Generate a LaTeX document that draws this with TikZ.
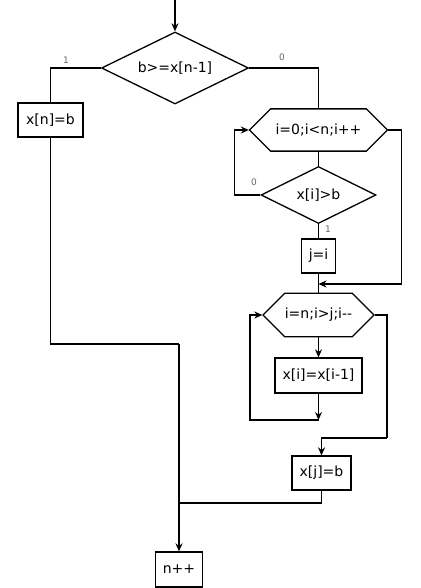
\documentclass[tikz,border=0pt]{standalone}
\usepackage{fontspec}
\setmainfont{DejaVu Sans}
\usetikzlibrary{shapes.geometric, shapes.misc, arrows.meta}

\tikzset{
  block/.style={draw, rectangle, inner sep=0pt, line width=1.3pt},
  test/.style={draw, diamond, aspect=2, inner sep=0pt, line width=1.3pt},
  cycle/.style={draw, chamfered rectangle, chamfered rectangle xsep=#1,
    chamfered rectangle ysep=15pt, inner sep=0pt, line width=1.3pt},
  flow/.style={line width=1.3pt, -{Stealth[length=8pt,width=7pt]}},
  wire/.style={line width=1.3pt},
  branch/.style={font=\fontsize{9}{10}\selectfont, text=black!60, inner sep=1pt}
}

\begin{document}
\begin{tikzpicture}[x=1pt, y=-1pt, font=\fontsize{14}{16}\selectfont]
            \useasboundingbox (0,0) rectangle (420,588);

            \coordinate (start) at (175,0);
            \node[test, minimum width=147pt, minimum height=72pt] (cmpb) at (175,68) {b>=x[n-1]};
            \node[block, minimum width=65pt, minimum height=34pt] (setn) at (50.5,120) {x[n]=b};
            \node[cycle=20pt, minimum width=138pt, minimum height=30pt] (findi) at (318.5,130) {i=0;i<n;i++};
            \node[test, minimum width=115pt, minimum height=57pt] (cmpx) at (318.5,195) {x[i]>b};
            \node[block, minimum width=34pt, minimum height=34pt] (setj) at (318.5,256) {j=i};
            \node[cycle=15pt, minimum width=111pt, minimum height=30pt] (shifti) at (318.5,315) {i=n;i>j;i-{}-};
            \node[block, minimum width=87pt, minimum height=35pt] (move) at (318.5,375.5) {x[i]=x[i-1]};
            \node[block, minimum width=59pt, minimum height=34pt] (putb) at (321.5,473) {x[j]=b};
            \node[block, minimum width=47pt, minimum height=35pt] (incn) at (179,569.5) {n++};

            \coordinate (skip) at (318.5,284);
            \coordinate (back) at (318.5,420);
            \coordinate (out) at (387,438);
            \coordinate (merge) at (179,503);
            \coordinate (down) at (179,344);

            \draw[flow] (start) -- (cmpb.north);
            \draw[wire] (cmpb.west) -| (setn.north);
            \draw[wire] (cmpb.east) -| (findi.north);
            \node[branch] (yesb) at (66,60) {1};
            \node[branch] (nob) at (282,57) {0};

            \draw[wire] (findi.south) -- (cmpx.north);
            \draw[flow] (cmpx.west) -- ++(-26,0) |- (findi.west);
            \node[branch] (nox) at (254,182) {0};
            \draw[wire] (cmpx.south) -- (setj.north);
            \node[branch] (yesx) at (328,229) {1};
            \draw[flow] (findi.east) -- ++(13,0) |- (skip);
            \draw[wire] (setj.south) -- (shifti.north);

            \draw[flow] (shifti.south) -- (move.north);
            \draw[flow] (move.south) -- (back);
            \draw[flow] (back) -- ++(-68.5,0) |- (shifti.west);
            \draw[wire] (shifti.east) -| (out);
            \draw[flow] (out) -| (putb.north);

            \draw[wire] (putb.south) |- (merge);
            \draw[wire] (setn.south) |- (down);
            \draw[flow] (down) -- (incn.north);
          \end{tikzpicture}
\end{document}
